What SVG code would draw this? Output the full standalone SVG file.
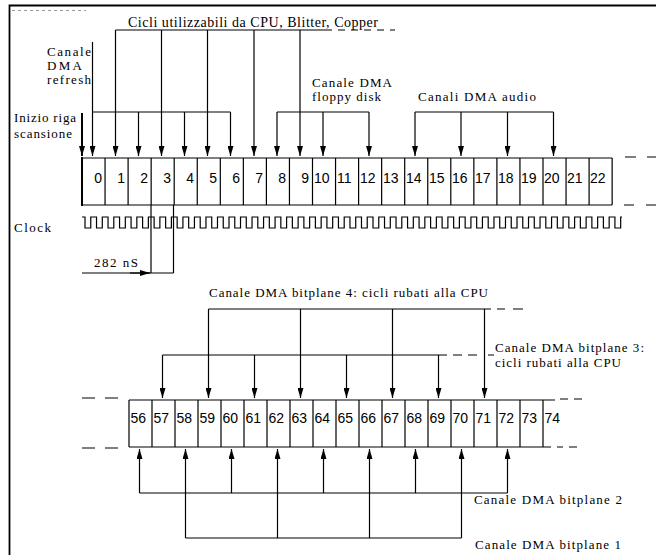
<svg xmlns="http://www.w3.org/2000/svg" width="656" height="555" viewBox="0 0 656 555">
<defs>
<marker id="ah" viewBox="0 0 10 6" refX="10" refY="3" markerWidth="10" markerHeight="6" markerUnits="userSpaceOnUse" orient="auto"><path d="M0,0 L10,3 L0,6 z" fill="#000"/></marker>
</defs>
<style>
.ln{stroke:#000;stroke-width:1.2;fill:none}
.ar{stroke:#000;stroke-width:1.2;fill:none;marker-end:url(#ah)}
.t{font-family:"Liberation Serif","Times New Roman",serif;font-size:14px;fill:#000}
.s{font-size:13px}
.n{font-family:"Liberation Sans",Arial,sans-serif;font-size:14px;fill:#000}
</style>
<rect width="656" height="555" fill="#fff"/>
<g id="frame">
<path d="M9.5,555 V5.5 H656" stroke="#000" stroke-width="1.8" fill="none"/>
<path d="M12,10.5 H86" stroke="#999" stroke-width="1" stroke-dasharray="3 3" fill="none"/>
</g>

<g id="top-cells">
<path class="ln" d="M82,158 H612.15 M82,205 H612.15 M105.05,158 V205 M128.1,158 V205 M151.15,158 V205 M174.2,158 V205 M197.25,158 V205 M220.3,158 V205 M243.35,158 V205 M266.4,158 V205 M289.45,158 V205 M312.5,158 V205 M335.55,158 V205 M358.6,158 V205 M381.65,158 V205 M404.7,158 V205 M427.75,158 V205 M450.8,158 V205 M473.85,158 V205 M496.9,158 V205 M519.95,158 V205 M543,158 V205 M566.05,158 V205 M589.1,158 V205 M612.15,158 V205"/>
<path d="M82,157 V206" stroke="#000" stroke-width="2" fill="none"/>
<path class="ln" d="M625,157 H636 M647,157 H656 M624,205 H634 M646,205 H656"/>
<text class="n" text-anchor="end" x="102" y="183">0</text>
<text class="n" text-anchor="end" x="125" y="183">1</text>
<text class="n" text-anchor="end" x="148" y="183">2</text>
<text class="n" text-anchor="end" x="171" y="183">3</text>
<text class="n" text-anchor="end" x="194" y="183">4</text>
<text class="n" text-anchor="end" x="217" y="183">5</text>
<text class="n" text-anchor="end" x="240" y="183">6</text>
<text class="n" text-anchor="end" x="263" y="183">7</text>
<text class="n" text-anchor="end" x="286" y="183">8</text>
<text class="n" text-anchor="end" x="309" y="183">9</text>
<text class="n" x="314" y="183">10</text>
<text class="n" x="337" y="183">11</text>
<text class="n" x="360" y="183">12</text>
<text class="n" x="383" y="183">13</text>
<text class="n" x="406" y="183">14</text>
<text class="n" x="429" y="183">15</text>
<text class="n" x="452" y="183">16</text>
<text class="n" x="475" y="183">17</text>
<text class="n" x="498" y="183">18</text>
<text class="n" x="521" y="183">19</text>
<text class="n" x="544" y="183">20</text>
<text class="n" x="567" y="183">21</text>
<text class="n" x="590" y="183">22</text>
</g>

<g id="top-labels">
<text class="t" x="128" y="27" textLength="250" lengthAdjust="spacing">Cicli utilizzabili da CPU, Blitter, Copper</text>
<text class="t s" x="47" y="56" textLength="44" lengthAdjust="spacing">Canale</text>
<text class="t s" x="47" y="70" textLength="35" lengthAdjust="spacing">DMA</text>
<text class="t s" x="47" y="84" textLength="44" lengthAdjust="spacing">refresh</text>
<text class="t s" x="14" y="122" textLength="62" lengthAdjust="spacing">Inizio riga</text>
<text class="t s" x="14" y="138" textLength="58" lengthAdjust="spacing">scansione</text>
<text class="t s" x="312" y="87" textLength="80" lengthAdjust="spacing">Canale DMA</text>
<text class="t s" x="312" y="101" textLength="69" lengthAdjust="spacing">floppy disk</text>
<text class="t s" x="418" y="101" textLength="118" lengthAdjust="spacing">Canali DMA audio</text>
<text class="t s" x="14" y="232" textLength="37" lengthAdjust="spacing">Clock</text>
<text class="t s" x="94" y="267" textLength="44" lengthAdjust="spacing">282 nS</text>
</g>

<g id="top-connectors">
<path class="ln" d="M115.5,30 H325"/>
<path class="ln" d="M325,30 H395" stroke-dasharray="7 6"/>
<path class="ln" d="M92.5,112 H230.5 M277,112 H369 M415,112 H553.5"/>
<path d="M82,113 V156" stroke="#000" stroke-width="2" fill="none" marker-end="url(#ah)"/>
<path class="ar" d="M92.5,42 V156"/>
<path class="ar" d="M115.5,30 V156"/>
<path class="ar" d="M138.5,112 V156"/>
<path class="ar" d="M161.5,30 V156"/>
<path class="ar" d="M184.5,112 V156"/>
<path class="ar" d="M207.5,30 V156"/>
<path class="ar" d="M230.5,112 V156"/>
<path class="ar" d="M254,30 V156"/>
<path class="ar" d="M277,112 V156"/>
<path class="ar" d="M300,30 V156"/>
<path class="ar" d="M323,112 V156"/>
<path class="ar" d="M369,112 V156"/>
<path class="ar" d="M415,112 V156"/>
<path class="ar" d="M461,112 V156"/>
<path class="ar" d="M507.5,112 V156"/>
<path class="ar" d="M553.5,112 V156"/>
</g>

<g id="clock">
<path class="ln" d="M82,217 h3 v11h5.76v-11h5.76v11h5.76v-11h5.76v11h5.76v-11h5.76v11h5.76v-11h5.76v11h5.76v-11h5.76v11h5.76v-11h5.76v11h5.76v-11h5.76v11h5.76v-11h5.76v11h5.76v-11h5.76v11h5.76v-11h5.76 v11h5.76v-11h5.76v11h5.76v-11h5.76v11h5.76v-11h5.76v11h5.76v-11h5.76v11h5.76v-11h5.76v11h5.76v-11h5.76v11h5.76v-11h5.76v11h5.76v-11h5.76v11h5.76v-11h5.76v11h5.76v-11h5.76 v11h5.76v-11h5.76v11h5.76v-11h5.76v11h5.76v-11h5.76v11h5.76v-11h5.76v11h5.76v-11h5.76v11h5.76v-11h5.76v11h5.76v-11h5.76v11h5.76v-11h5.76v11h5.76v-11h5.76v11h5.76v-11h5.76 v11h5.76v-11h5.76v11h5.76v-11h5.76v11h5.76v-11h5.76v11h5.76v-11h5.76v11h5.76v-11h5.76v11h5.76v-11h5.76v11h5.76v-11h5.76v11h5.76v-11h5.76v11h5.76v-11h5.76v11h5.76v-11h5.76 v11h5.76v-11h5.76v11h5.76v-11h5.76v11h5.76v-11h5.76v11h5.76v-11h5.76v11h5.76v-11h5.76v11h5.76v-11h5.76 v11h5.76v-11h1.3"/>
<path class="ln" d="M151,205 V273 M173.5,205 V273 M82,273 H173.5"/>
<path class="ar" d="M130,273 H150"/>
</g>

<g id="bottom-cells">
<path class="ln" d="M129,400 H555 M129,447 H551 M129,400 V447 M152,400 V447 M175,400 V447 M198,400 V447 M221,400 V447 M244,400 V447 M267,400 V447 M290,400 V447 M313,400 V447 M336,400 V447 M359,400 V447 M382,400 V447 M405,400 V447 M428,400 V447 M451,400 V447 M474,400 V447 M497,400 V447 M520,400 V447 M543,400 V447"/>
<path class="ln" d="M82,398 H95 M105,398 H118 M82,448 H95 M105,448 H118 M560,399 H568 M574,399 H582 M557,447 H563 M569,447 H577"/>
<text class="n" x="130.5" y="423">56</text>
<text class="n" x="153.5" y="423">57</text>
<text class="n" x="176.5" y="423">58</text>
<text class="n" x="199.5" y="423">59</text>
<text class="n" x="222.5" y="423">60</text>
<text class="n" x="245.5" y="423">61</text>
<text class="n" x="268.5" y="423">62</text>
<text class="n" x="291.5" y="423">63</text>
<text class="n" x="314.5" y="423">64</text>
<text class="n" x="337.5" y="423">65</text>
<text class="n" x="360.5" y="423">66</text>
<text class="n" x="383.5" y="423">67</text>
<text class="n" x="406.5" y="423">68</text>
<text class="n" x="429.5" y="423">69</text>
<text class="n" x="452.5" y="423">70</text>
<text class="n" x="475.5" y="423">71</text>
<text class="n" x="498.5" y="423">72</text>
<text class="n" x="521.5" y="423">73</text>
<text class="n" x="544.5" y="423">74</text>
</g>

<g id="bottom-labels">
<text class="t s" x="209" y="297" textLength="279" lengthAdjust="spacing">Canale DMA bitplane 4: cicli rubati alla CPU</text>
<text class="t s" x="495" y="352" textLength="149" lengthAdjust="spacing">Canale DMA bitplane 3:</text>
<text class="t s" x="495" y="367" textLength="126" lengthAdjust="spacing">cicli rubati alla CPU</text>
<text class="t s" x="474" y="504" textLength="148" lengthAdjust="spacing">Canale DMA bitplane 2</text>
<text class="t s" x="475" y="549" textLength="146" lengthAdjust="spacing">Canale DMA bitplane 1</text>
</g>

<g id="bottom-connectors">
<path class="ln" d="M208.5,309 H491 M162.5,355 H447 M139.5,493 H507.5 M185.5,538 H461.5"/>
<path class="ln" d="M497,309 H505 M513,309 H523 M453,355 H462 M468,355 H477 M488,355 H494"/>
<path class="ar" d="M208.5,309 V398"/>
<path class="ar" d="M300.5,309 V398"/>
<path class="ar" d="M392.5,309 V398"/>
<path class="ar" d="M484.5,309 V398"/>
<path class="ar" d="M162.5,355 V398"/>
<path class="ar" d="M254.5,355 V398"/>
<path class="ar" d="M346.5,355 V398"/>
<path class="ar" d="M438.5,355 V398"/>
<path class="ar" d="M139.5,493 V449"/>
<path class="ar" d="M231.5,493 V449"/>
<path class="ar" d="M323.5,493 V449"/>
<path class="ar" d="M415.5,493 V449"/>
<path class="ar" d="M507.5,493 V449"/>
<path class="ar" d="M185.5,538 V449"/>
<path class="ar" d="M277.5,538 V449"/>
<path class="ar" d="M369.5,538 V449"/>
<path class="ar" d="M461.5,538 V449"/>
</g>
</svg>
